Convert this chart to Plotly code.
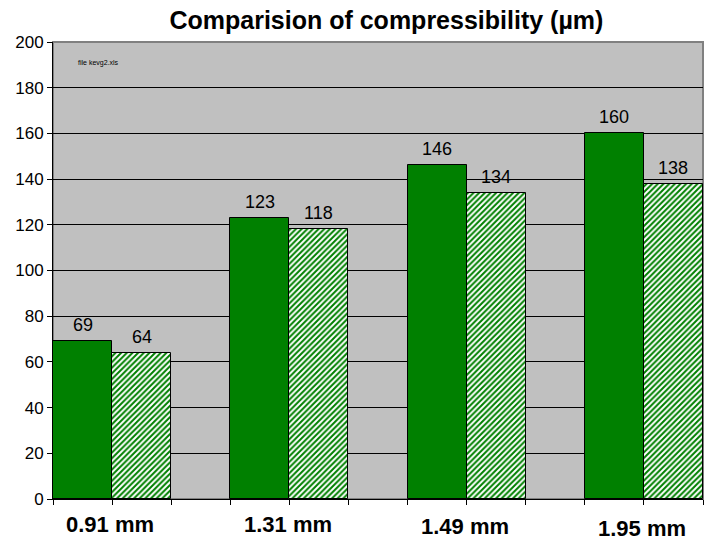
import plotly.graph_objects as go

categories = ["0.91 mm", "1.31 mm", "1.49 mm", "1.95 mm"]
series_a = [69, 123, 146, 160]
series_b = [64, 118, 134, 138]
y_ticks = [0, 20, 40, 60, 80, 100, 120, 140, 160, 180, 200]
label_y = [-0.055, -0.055, -0.060, -0.064]

slot = 3
xa = [slot * i + 0.5 for i in range(len(categories))]
xb = [slot * i + 1.5 for i in range(len(categories))]
FONT = "Arial, Liberation Sans"

fig = go.Figure()
fig.add_trace(go.Bar(
    x=xa, y=series_a, width=1,
    marker=dict(color="#008000", line=dict(color="black", width=1)),
    showlegend=False, hoverinfo="y",
))
fig.add_trace(go.Bar(
    x=xb, y=series_b, width=1,
    marker=dict(color="white", line=dict(color="black", width=1),
                pattern=dict(shape="/", fgcolor="#008000", bgcolor="white",
                             fgopacity=1, size=4, solidity=0.5, fillmode="replace")),
    showlegend=False, hoverinfo="y",
))

annotations = []
for xs, vals in ((xa, series_a), (xb, series_b)):
    for x, v in zip(xs, vals):
        annotations.append(dict(
            x=x, y=v, xref="x", yref="y", text=str(v), showarrow=False,
            font=dict(family=FONT, size=18, color="black"),
            xanchor="center", yanchor="middle", yshift=16,
        ))
for i, c in enumerate(categories):
    annotations.append(dict(
        x=slot * i + 0.97, y=label_y[i], xref="x", yref="paper",
        text="<b>" + c + "</b>", showarrow=False,
        font=dict(family=FONT, size=22, color="black"),
        xanchor="center", yanchor="middle",
    ))
annotations.append(dict(
    x=0.035, y=0.955, xref="paper", yref="paper", text="file kevg2.xls",
    showarrow=False, font=dict(family=FONT, size=7, color="black"),
    xanchor="left", yanchor="middle",
))

fig.update_layout(
    width=709, height=541,
    margin=dict(l=53, r=6, t=42, b=42),
    paper_bgcolor="white", plot_bgcolor="#C0C0C0",
    title=dict(text="<b>Comparision of compressibility (µm)</b>",
               x=0.545, xanchor="center", y=0.962, yanchor="middle",
               font=dict(family=FONT, size=25, color="black")),
    bargap=0, barmode="overlay",
    font=dict(family=FONT, color="black"),
    annotations=annotations,
    shapes=[dict(type="rect", xref="paper", yref="paper", x0=0, x1=1, y0=0, y1=1,
                 line=dict(color="#808080", width=2), layer="below")],
    xaxis=dict(range=[0, 11], showgrid=False, zeroline=False,
               showline=True, linecolor="black", linewidth=1,
               tickmode="linear", tick0=0, dtick=1, ticks="outside",
               ticklen=5, tickcolor="black", showticklabels=False),
    yaxis=dict(range=[0, 200], tickvals=y_ticks, showgrid=True,
               gridcolor="black", gridwidth=1, zeroline=False,
               showline=True, linecolor="black", linewidth=1,
               ticks="outside", ticklen=5, tickcolor="black",
               tickfont=dict(family=FONT, size=17, color="black")),
)

fig.write_html("out.html")
